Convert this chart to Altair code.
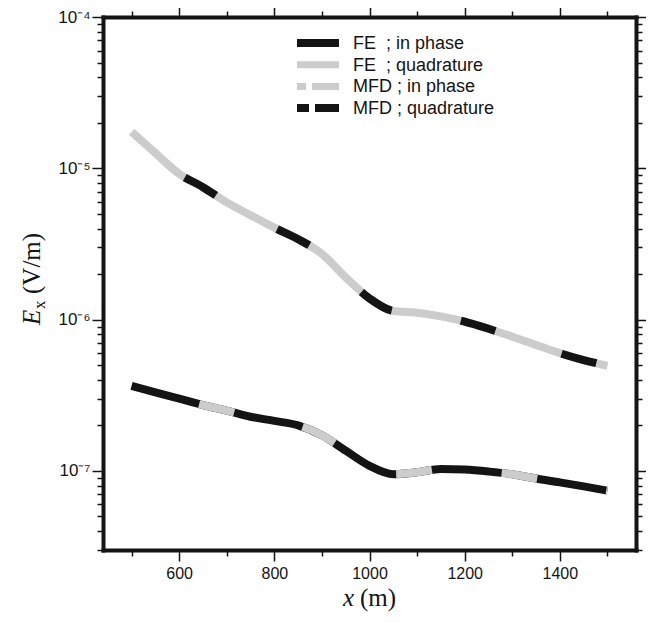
import altair as alt
import pandas as pd

# ---------------- data ----------------
x_m = [500, 550, 600, 650, 700, 750, 800, 850, 900, 950, 1000,
       1050, 1100, 1150, 1200, 1250, 1300, 1350, 1400, 1450, 1500]
# upper curve (quadrature)
ex_quad = [1.74e-5, 1.26e-5, 9.2e-6, 7.5e-6, 5.95e-6, 4.9e-6, 4.05e-6, 3.4e-6,
           2.72e-6, 1.9e-6, 1.38e-6, 1.14e-6, 1.11e-6, 1.05e-6, 9.7e-7, 8.7e-7,
           7.7e-7, 6.8e-7, 6.0e-7, 5.4e-7, 4.95e-7]
# lower curve (in phase)
ex_inph = [3.65e-7, 3.3e-7, 3.0e-7, 2.72e-7, 2.5e-7, 2.28e-7, 2.14e-7, 2.0e-7,
           1.72e-7, 1.36e-7, 1.08e-7, 9.5e-8, 9.8e-8, 1.03e-7, 1.02e-7, 9.9e-8,
           9.5e-8, 8.9e-8, 8.4e-8, 7.9e-8, 7.4e-8]

series_names = ["FE\u00a0\u00a0; in phase", "FE\u00a0\u00a0; quadrature",
                "MFD ; in phase", "MFD ; quadrature"]
series_curve = [ex_inph, ex_quad, ex_inph, ex_quad]
series_color = ["#141414", "#cbcccb", "#cbcccb", "#141414"]
series_dashed = [False, False, True, True]

x_ticks = [500, 600, 700, 800, 900, 1000, 1100, 1200, 1300, 1400, 1500]
y_ticks = [m * 10.0 ** k for k in (-8, -7, -6, -5) for m in range(1, 10)
           if 3e-8 * 0.999 <= m * 10.0 ** k <= 1e-4] + [1e-4]
y_major_labels = {-7: "10\u207b\u2077", -6: "10\u207b\u2076",
                  -5: "10\u207b\u2075", -4: "10\u207b\u2074"}

BLACK = "#141414"

# ---------------- scales / axes ----------------
xscale = alt.Scale(domain=[440, 1560], nice=False, zero=False)
yscale = alt.Scale(type="log", domain=[3e-8, 1e-4], nice=False)

x_major_test = "datum.value % 200 == 0"
lg = "log(datum.value)/LN10"
y_major_test = f"abs({lg} - round({lg})) < 0.01"
y_label_expr = f"({y_major_test}) ? (" + " : ".join(
    f"round({lg}) == {k} ? '{v}'" for k, v in y_major_labels.items()) + " : '') : ''"

common_axis = dict(grid=False, domain=True, domainColor=BLACK, domainWidth=4,
                   domainCap="square",
                   tickColor=BLACK, tickWidth=1.5,
                   labelFont="Liberation Sans", labelFontSize=16,
                   labelColor=BLACK, labelOverlap=False, labelFlush=False,
                   labelBound=False, title=None)


def x_axis(orient, labels):
    return alt.Axis(orient=orient, values=x_ticks, labels=labels, format="d",
                    tickSize={"condition": {"test": x_major_test, "value": 11}, "value": 6},
                    labelExpr=f"{x_major_test} ? datum.label : ''",
                    labelPadding=4, **common_axis)


def y_axis(orient, labels):
    return alt.Axis(orient=orient, values=y_ticks, labels=labels,
                    tickSize={"condition": {"test": y_major_test, "value": 11}, "value": 6},
                    labelExpr=y_label_expr, labelPadding=2, labelFontSize=17,
                    **{k: v for k, v in common_axis.items() if k != "labelFontSize"})


# ---------------- curves ----------------
layers = []
for i, (name, curve, col, dashed) in enumerate(zip(series_names, series_curve,
                                                     series_color, series_dashed)):
    df = pd.DataFrame({"x": x_m, "Ex": curve, "series": name})
    props = dict(color=col, strokeWidth=8, strokeCap="butt", interpolate="monotone")
    if dashed:
        props.update(strokeDash=[36, 70], strokeDashOffset=36)
    if i == 0:
        xa, ya = x_axis("bottom", True), y_axis("left", True)
    else:
        xa, ya = None, None
    layers.append(
        alt.Chart(df).mark_line(**props).encode(
            x=alt.X("x:Q", scale=xscale, axis=xa),
            y=alt.Y("Ex:Q", scale=yscale, axis=ya),
        )
    )

# invisible layer carrying the top / right tick axes
df_q = pd.DataFrame({"x": x_m, "Ex": ex_quad})
layers.append(
    alt.Chart(df_q).mark_line(opacity=0).encode(
        x=alt.X("x:Q", scale=xscale, axis=x_axis("top", False)),
        y=alt.Y("Ex:Q", scale=yscale, axis=y_axis("right", False)),
    )
)

# ---------------- legend ----------------
leg_x0, leg_x1, leg_tx, leg_y0, leg_dy = 194, 236, 250, 26, 21.7
leg_dash = [None, None, [9, 6, 40, 1], [12, 6, 40, 1]]
leg_width = [8, 7, 7, 8]
for i, name in enumerate(series_names):
    one = pd.DataFrame({"label": [name]})
    rp = dict(color=series_color[i], strokeWidth=leg_width[i], strokeCap="butt")
    if leg_dash[i]:
        rp["strokeDash"] = leg_dash[i]
    yy = leg_y0 + leg_dy * i
    layers.append(alt.Chart(one).mark_rule(**rp).encode(
        x=alt.value(leg_x0), x2=alt.value(leg_x1), y=alt.value(yy)))
    layers.append(alt.Chart(one).mark_text(
        align="left", baseline="middle", font="Liberation Sans", fontSize=18,
        color=BLACK).encode(x=alt.value(leg_tx), y=alt.value(yy + 1), text="label:N"))

# ---------------- axis titles (mixed italic) ----------------
def txt(s, x, y, size=25, style="normal", angle=0):
    return alt.Chart(pd.DataFrame({"t": [s]})).mark_text(
        align="left", baseline="alphabetic", font="Liberation Serif",
        fontSize=size, fontStyle=style, angle=angle, color=BLACK
    ).encode(x=alt.value(x), y=alt.value(y), text="t:N")

layers += [
    txt("x", 240, 589, style="italic"),
    txt("(m)", 257, 589),
    txt("E", -63, 308, style="italic", angle=270),
    txt("x", -58, 292, size=17, angle=270),
    txt("(V/m)", -63, 277, angle=270),
]

chart = alt.layer(*layers).resolve_axis(x="independent", y="independent").properties(
    width=533, height=533,
    autosize=alt.AutoSizeParams(type="none"),
    padding={"left": 95, "top": 9, "right": 10, "bottom": 65},
).configure_view(stroke=None).configure(background="white")

chart.save("out.html", embed_options={"renderer": "svg", "actions": False})
